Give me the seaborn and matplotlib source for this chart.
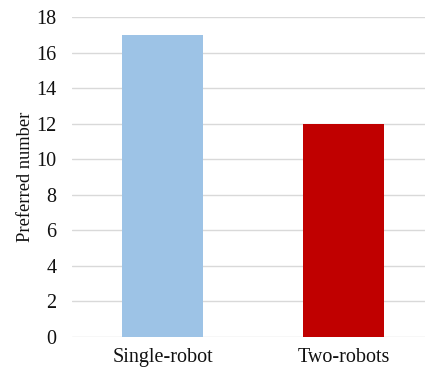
import matplotlib
matplotlib.use("Agg")
import matplotlib.pyplot as plt
import seaborn as sns
import pandas as pd

categories = ["Single-robot", "Two-robots"]
values = [17, 12]
colors = ["#9dc3e6", "#c00000"]

sns.set_theme(style="white")
plt.rcParams['font.family'] = ['Liberation Serif', 'DejaVu Serif']

df = pd.DataFrame({"cat": categories, "val": values})

fig = plt.figure(figsize=(4.27, 3.73), dpi=100)
ax = fig.add_axes([72 / 427, 36 / 373, (427 - 72 - 2) / 427, (337 - 17) / 373])

sns.barplot(data=df, x="cat", y="val", hue="cat", palette=colors, width=0.45,
            legend=False, ax=ax, saturation=1, zorder=3, linewidth=0)

ax.set_ylim(0, 18)
ax.set_yticks(range(0, 19, 2))
ax.set_xlim(-0.5, 1.45)
ax.yaxis.grid(True, color="#d9d9d9", linewidth=1, zorder=0)
ax.set_axisbelow(True)
for s in ax.spines.values():
    s.set_visible(False)
ax.tick_params(axis="both", length=0, labelsize=14.5, colors="#111111")
ax.tick_params(axis="y", pad=11)
ax.tick_params(axis="x", pad=8)
ax.set_xlabel("")
ax.set_ylabel("Preferred number", fontsize=13.3, color="#111111", labelpad=2)

fig.savefig("out.png", dpi=100)
